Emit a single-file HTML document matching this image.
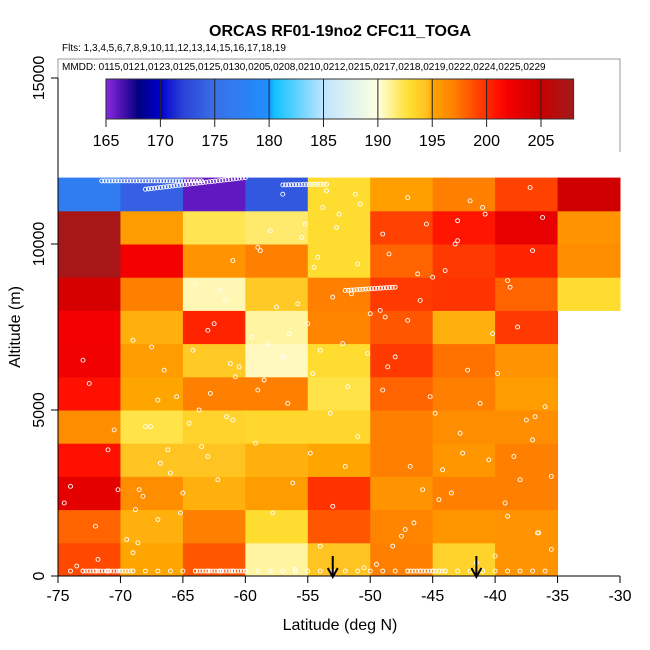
<!DOCTYPE html>
<html><head><meta charset="utf-8">
<style>
html,body{margin:0;padding:0;background:#fff;}
svg{display:block;font-family:"Liberation Sans",sans-serif;}
</style></head>
<body>
<svg id="chart" width="650" height="650" viewBox="0 0 650 650">
<defs>
<linearGradient id="cbar" x1="0" x2="1" y1="0" y2="0">
</linearGradient>
</defs>
<text x="340" y="36" text-anchor="middle" font-size="16" font-weight="bold">ORCAS RF01-19no2 CFC11_TOGA</text>
<text x="62" y="51" font-size="10">Flts: 1,3,4,5,6,7,8,9,10,11,12,13,14,15,16,17,18,19</text>
<g id="cells"></g>
<g id="points"></g>
<g>
<rect x="58" y="59" width="562" height="93" fill="#fff"/>
<polyline points="58,152 58,59 620,59 620,152" fill="none" stroke="#999" stroke-width="1"/>
<text x="62" y="70" font-size="10">MMDD: 0115,0121,0123,0125,0125,0130,0205,0208,0210,0212,0215,0217,0218,0219,0222,0224,0225,0229</text>
</g>
<g id="colorbar"></g>
<g id="axes"></g>
<text x="340" y="630" text-anchor="middle" font-size="16">Latitude (deg N)</text>
<text transform="translate(20,327) rotate(-90)" text-anchor="middle" font-size="16">Altitude (m)</text>
</svg>
<script>
const latBins = [-75,-70,-65,-60,-55,-50,-45,-40,-35];
const altBins = [0,1000,2000,3000,4000,5000,6000,7000,8000,9000,10000,11000];
// values[row][col], row 0 = 0-1000 m
const values = [
 [199,195,198.5,191,194.3,197,193.5,196,null],
 [198,194.8,197,193,198.5,196.8,195.8,196,null],
 [203,196.3,194.8,195.5,199.8,196,197,197,null],
 [201,194.3,194.3,194.8,195,197,195.8,197,null],
 [196.3,192.5,193.5,193.3,193.3,197,196.3,196.3,null],
 [201,195,197,197,192.5,198,197,195.5,null],
 [202.2,195.5,194,190.5,193,199.5,197.5,196,null],
 [202,194.8,200.3,191,196.8,198.5,194.8,199.5,null],
 [204,197,190.7,194,197,199.5,199.7,198,193],
 [207.5,202,196,197,193,198,199.5,200.3,196.3],
 [207.5,195.5,192.3,191.8,193,199.2,200.8,202.8,196],
 [177,174,166,173.5,193,195.3,197,199.2,204.5]
];
const xTicks = [-75,-70,-65,-60,-55,-50,-45,-40,-35,-30];
const yTicks = [0,5000,10000,15000];
const cbTicks = [165,170,175,180,185,190,195,200,205];
const arrowLats = [-53,-41.5];
const pointLats = [-73.5,-72,-74,-71,-68,-67,-66.5,-63,-62,-61,-58,-57,-56,-54,-53,-52,-51,-49,-48,-47,-46,-44,-43,-42,-41,-39,-38,-37,-36,-73,-69,-64,-59,-55.5,-53.5,-50.5,-47.5,-44.5,-40.5,-37.5,-72.5,-67.5,-62.5,-57.5,-54.5,-52.5,-49.5,-46.5,-43.5,-38.5,-70.5,-65.5,-60.5,-56.5,-51.5,-48.5,-45.5,-41.5,-36.5,-74.5,-66,-61.5,-58.5,-54,-50,-45,-40,-35.5,-68.5,-63.5,
 -74,-73,-72,-71,-70,-69,-68,-67,-66,-65,-64,-63,-62,-61,-60,-59,-58,-57,-56,-55,-54,-53,-52,-51,-50,-49,-48,-47,-46,-45,-44,-43,-42,-41,-40,-39,-38,-37,-36,
 -69.5,-68.2,-66.8,-64.5,-62.8,-61.2,-59.5,-57.8,-56.2,-54.8,-53.2,-51.8,-50.2,-48.8,-47.2,-45.8,-44.2,-42.8,-41.2,-39.8,-38.2,-36.8,-35.5,
 -69,-67,-65,-63,-61,-59,-57,-55,-53,-51,-49,-47,-45,-43,-41,-39,-37,
 -68.8,-66.2,-63.7,-60.8,-58.2,-55.8,-54.2,-52.7,-50.8,-48.2,-46.8,-44.8,-42.2,-40.2,-38.8,-36.2,
 -71.8,-68.6,-65.2,-62.2,-59.2,-56.6,-54.6,-52.2,-49.2,-46.2,-43.2,-40.8,-37.2,
 -70.2,-67.6,-64.2,-61.6,-58.8,-55.2,-53.8,-51.2,-48.6,-45.2,-42.6,-39.2,-36.6];
const pointAlts = [300,1500,2700,3800,4500,5300,6200,7400,8600,9500,10400,11500,200,900,2100,3300,4200,5600,6600,7700,8300,9200,10700,11300,150,1800,2900,4100,5100,6500,7100,8800,9900,10200,11600,250,1200,2300,3500,4700,5800,6900,7600,8100,9300,10900,350,1600,2500,3600,4400,5400,6300,7300,8500,9700,10600,400,1300,2200,3100,4800,5900,6800,7900,150,600,800,2600,3900,
 150,150,150,150,150,150,150,150,150,150,150,150,150,150,150,150,150,150,150,150,150,150,150,150,150,150,150,150,150,150,150,150,150,150,150,150,150,150,150,
 1100,2400,3400,4600,5500,6400,7200,1900,2800,3700,4900,5700,6700,7800,1400,2600,3200,4300,5200,6100,7500,4800,3000,
 700,1700,2500,3600,4700,5600,6600,7600,8400,9400,10300,11400,9000,10100,11100,8900,9800,
 2000,3800,5000,6000,7000,8200,9600,10500,11200,900,3300,4900,6200,7300,8700,10800,
 500,1000,1900,2900,4000,5200,6100,7000,8000,9100,10000,10900,11700,
 2600,4500,6800,8300,9800,10600,11100,11500,6300,5400,3700,2200,1300];
const trackLat = [[-71.5,-63.5],[-68,-60],[-57,-53.5],[-52,-48],[-73,-69],[-64,-60],[-47,-44]];
const trackAlt = [[11900,11900],[11650,12000],[11780,11800],[8600,8700],[150,150],[150,150],[150,150]];

const X = v => 58 + (v + 75) * 562/45;
const Y = v => 576 - v * 498/15000;
const CB = v => 106 + (v - 165) * 10.875;
const stops = [[165,'#8a2be2'],[166.5,'#4b10b0'],[168,'#000080'],[170,'#0000cd'],[172,'#2a40d8'],[175,'#3a70e8'],[180,'#1e90ff'],[180.1,'#00bfff'],[185,'#c0e4ff'],[190,'#ffffe0'],[192,'#ffe860'],[193,'#ffdd30'],[194.5,'#ffc020'],[195,'#ffa500'],[197,'#ff8000'],[199,'#ff4800'],[201,'#ff1000'],[202,'#f40000'],[205,'#c80000'],[208,'#a01c1c']];
function hex(h){return [1,3,5].map(i=>parseInt(h.substr(i,2),16));}
function col(v){
  if(v<=stops[0][0]) return stops[0][1];
  for(let i=1;i<stops.length;i++){
    if(v<=stops[i][0]){
      const [a,ca]=stops[i-1],[b,cb]=stops[i];const t=(v-a)/(b-a);
      const A=hex(ca),B=hex(cb);
      return 'rgb('+A.map((x,k)=>Math.round(x+(B[k]-x)*t)).join(',')+')';
    }
  }
  return stops[stops.length-1][1];
}
const NS='http://www.w3.org/2000/svg';
function mk(tag,attrs,parent){const e=document.createElementNS(NS,tag);for(const k in attrs)e.setAttribute(k,attrs[k]);parent.appendChild(e);return e;}
const cells=document.getElementById('cells');
values.forEach((row,r)=>row.forEach((v,c)=>{
  if(v===null) return;
  const x0=X(latBins[c]),x1=X(latBins[c]+5),y0=Y(altBins[r]+1000),y1=Y(altBins[r]);
  const e=mk('rect',{x:x0,y:y0,width:x1-x0+0.5,height:y1-y0+0.5,fill:col(v)},cells);
  
  
}));
const pts=document.getElementById('points');
pointLats.forEach((la,i)=>{
  const e=mk('circle',{cx:X(la),cy:Y(pointAlts[i]),r:2,fill:'none',stroke:'#fff','stroke-width':0.9},pts);
  
  
});
trackLat.forEach((tl,i)=>{
  const n=Math.round((X(tl[1])-X(tl[0]))/3);
  for(let k=0;k<=n;k++){
    const t=k/n;
    const e=mk('circle',{cx:X(tl[0]+(tl[1]-tl[0])*t),cy:Y(trackAlt[i][0]+(trackAlt[i][1]-trackAlt[i][0])*t),r:2,fill:'none',stroke:'#fff','stroke-width':0.9},pts);
    
    
  }
});
// colorbar
const cbg=document.getElementById('colorbar');
const grad=document.getElementById('cbar');
for(let v=165;v<=208;v+=0.5){mk('stop',{offset:((v-165)/43),'stop-color':col(v)},grad);}
const cbr=mk('rect',{x:CB(165),y:79,width:CB(208)-CB(165),height:40,fill:'url(#cbar)',stroke:'#333','stroke-width':1},cbg);


cbTicks.forEach(v=>{
  mk('line',{x1:CB(v),x2:CB(v),y1:79,y2:127,stroke:'#222','stroke-width':1},cbg);
  const t=mk('text',{x:CB(v),y:146,'text-anchor':'middle','font-size':16},cbg);
  t.textContent=v;
  
  
});
// axes
const ax=document.getElementById('axes');
mk('line',{x1:58,x2:620,y1:576,y2:576,stroke:'#000','stroke-width':1},ax);
mk('line',{x1:58,x2:58,y1:Y(15000),y2:576,stroke:'#000','stroke-width':1},ax);
xTicks.forEach(v=>{
  mk('line',{x1:X(v),x2:X(v),y1:576,y2:583,stroke:'#000'},ax);
  const t=mk('text',{x:X(v),y:601,'text-anchor':'middle','font-size':16},ax);
  t.textContent=v;
  
  
});
yTicks.forEach(v=>{
  mk('line',{x1:51,x2:58,y1:Y(v),y2:Y(v),stroke:'#000'},ax);
  const t=mk('text',{transform:'translate(44,'+Y(v)+') rotate(-90)','text-anchor':'middle','font-size':16},ax);
  t.textContent=v;
  
  
});
arrowLats.forEach(la=>{
  const g=mk('g',{},ax);
  
  
  const x=X(la);
  mk('line',{x1:x,x2:x,y1:556,y2:576,stroke:'#000','stroke-width':2},g);
  mk('polyline',{points:(x-5)+',568 '+x+',577 '+(x+5)+',568',fill:'none',stroke:'#000','stroke-width':2},g);
});
</script>
</body></html>
